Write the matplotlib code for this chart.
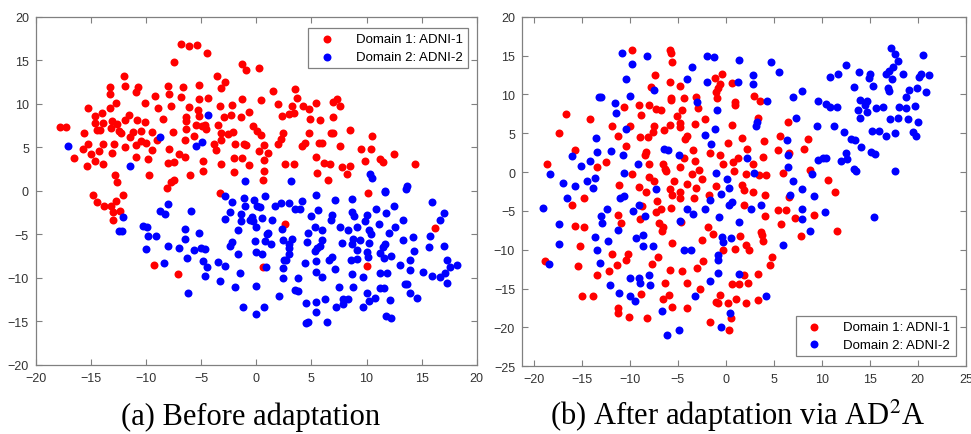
import matplotlib
matplotlib.use('Agg')
import matplotlib.pyplot as plt
import numpy as np

# (a) before adaptation: domain 1 (red)
a_red = [
    (-17.8, 7.3), (-17.3, 7.3), (-15.6, 6.7), (-15.3, 9.5), (-16.5, 3.8), (-15.7, 4.8), (-15.3, 5.4),
    (-15.0, 4.2), (-15.4, 2.9), (-14.6, 3.4), (-14.3, 4.6), (-14.6, 8.6), (-14.6, 7.8), (-14.5, 7.0),
    (-14.0, 9.0), (-14.2, 7.0), (-13.9, 7.8), (-13.9, 5.4), (-13.9, 3.1), (-13.3, 11.9), (-13.3, 11.1),
    (-13.3, 9.5), (-13.2, 7.2), (-13.1, 8.0), (-13.1, 4.4), (-12.9, 5.4), (-12.7, 10.1), (-12.6, 7.7),
    (-12.5, 6.9), (-12.3, 6.7), (-12.8, 1.8), (-12.6, 1.0), (-12.0, 13.2), (-11.9, 12.1), (-11.9, 5.0),
    (-11.9, 8.1), (-11.6, 8.7), (-11.5, 6.2), (-11.2, 6.8), (-10.9, 11.4), (-10.7, 11.9), (-10.8, 8.1),
    (-10.9, 5.3), (-10.5, 5.7), (-10.9, 3.9), (-10.5, 6.9), (-10.1, 10.1), (-10.1, 7.9), (-10.0, 5.5),
    (-9.8, 3.7), (-9.5, 4.7), (-9.5, 6.8), (-9.7, 1.8), (-9.2, 10.9), (-8.9, 9.5), (-9.0, 5.8),
    (-8.5, 8.3), (-8.0, 12.0), (-7.9, 11.1), (-7.7, 9.7), (-7.9, 4.8), (-7.6, 6.8), (-8.0, 3.2),
    (-7.5, 3.3), (-8.1, 0.3), (-7.7, 1.0), (-7.5, 1.2), (-7.5, 14.8), (-7.0, 4.2), (-6.8, 16.9),
    (-6.1, 16.7), (-5.4, 16.8), (-6.8, 10.8), (-6.7, 11.9), (-6.4, 8.5), (-6.4, 8.0), (-6.4, 7.1),
    (-6.5, 5.9), (-6.5, 3.9), (-6.1, 9.6), (-6.0, 1.8), (-5.7, 6.3), (-5.5, 7.6), (-5.2, 12.2),
    (-5.2, 10.6), (-5.2, 8.6), (-5.3, 9.3), (-4.9, 7.4), (-4.7, 7.6), (-4.6, 7.1), (-4.8, 3.4),
    (-4.8, 2.3), (-4.5, 15.9), (-4.4, 10.7), (-3.8, 5.4), (-3.7, 4.7), (-3.6, 13.2), (-3.5, 7.6),
    (-3.3, 9.8), (-3.2, 11.8), (-3.2, 6.7), (-3.2, 5.9), (-3.2, 3.1), (-2.9, 8.5), (-2.8, 12.5),
    (-2.6, 6.5), (-2.2, 9.9), (-2.3, 8.7), (-2.1, 6.8), (-2.0, 3.8), (-2.0, 2.2), (-1.9, 5.4),
    (-1.4, 8.5), (-1.3, 14.6), (-0.9, 13.9), (-1.3, 10.6), (-1.3, 3.8), (-1.1, 5.4), (-0.9, 5.3),
    (-0.7, 9.1), (-0.7, 3.0), (-3.3, -0.3), (0.2, 14.1), (1.5, 11.5), (3.5, 11.7), (3.7, 10.7),
    (0.4, 10.4), (2.0, 10.0), (3.2, 9.8), (4.2, 9.7), (4.8, 9.4), (5.4, 10.1), (7.0, 10.2),
    (7.3, 10.6), (7.6, 9.8), (2.3, 8.6), (3.0, 8.8), (3.4, 8.9), (4.9, 8.3), (5.8, 8.1), (7.0, 8.5),
    (-0.3, 7.5), (0.1, 6.9), (0.4, 6.4), (2.4, 6.6), (2.2, 6.0), (4.8, 6.6), (6.8, 6.6), (7.0, 6.7),
    (8.5, 7.0), (10.5, 6.3), (0.7, 5.3), (2.0, 5.4), (4.1, 5.2), (4.4, 5.5), (5.7, 5.5), (6.0, 5.5),
    (7.6, 5.1), (0.2, 4.6), (1.1, 4.3), (9.5, 4.8), (10.4, 4.8), (12.5, 4.2), (0.7, 3.6), (5.4, 3.9),
    (11.2, 3.7), (11.5, 3.3), (9.9, 3.4), (2.6, 3.1), (3.4, 3.1), (6.1, 3.2), (6.7, 3.1), (7.8, 2.7),
    (8.5, 2.9), (14.4, 3.1), (0.7, 2.3), (5.5, 2.0), (8.2, 1.9), (0.6, 1.3), (6.5, 1.3),
    (-14.8, -0.5), (-14.5, -1.3), (-13.8, -1.8), (-13.2, -1.8), (-12.7, -1.2), (-13.0, -2.4),
    (-12.4, -2.3), (-13.0, -3.4), (-12.1, -0.5), (-9.3, -8.5), (-7.1, -9.6),
    (10.1, -0.3), (2.6, -3.8), (16.2, -4.3), (0.6, -8.8), (10.0, -8.6),
]

# (a) before adaptation: domain 2 (blue)
a_blue = [
    (-17.1, 5.1), (-11.5, 2.9), (-8.7, 6.2), (-5.5, 5.2), (-4.9, 5.6), (-4.4, 8.7), (-1.0, 1.1),
    (-2.8, -0.6), (-1.1, -0.8), (3.1, 1.1), (10.3, 1.9), (10.5, 1.5), (11.7, 0.0), (13.7, 0.5),
    (-12.1, -3.0), (-12.5, -4.6), (-12.2, -4.6), (-10.3, -4.0), (-9.9, -4.1), (-9.8, -5.2),
    (-10.0, -6.7), (-9.1, -5.2), (-8.7, -2.3), (-8.3, -2.7), (-8.0, -1.5), (-8.0, -6.3), (-8.4, -8.3),
    (-7.0, -6.6), (-6.5, -4.4), (-6.5, -5.5), (-6.3, -7.7), (-5.9, -2.3), (-5.7, -6.8), (-6.2, -11.7),
    (-5.2, -4.8), (-5.0, -6.6), (-4.7, -6.7), (-4.8, -8.1), (-4.5, -8.7), (-4.7, -9.8), (-3.5, -8.2),
    (-3.3, -10.4), (-2.8, -8.6), (-2.8, -3.2), (-2.4, -2.4), (-2.2, -1.3), (-2.4, -6.3), (-2.2, -5.9),
    (-1.9, -11.1), (-1.7, -7.3), (-1.7, -4.5), (-1.5, -9.5), (-1.4, -2.7), (-1.4, -3.5), (-1.2, -13.3),
    (-1.0, -1.7), (-0.6, -3.3), (-0.2, -1.0), (0.1, -1.7), (0.3, -1.9), (0.8, -0.6), (-0.4, -3.0),
    (-0.3, -3.5), (0.5, -3.1), (1.4, -3.4), (1.7, -1.8), (2.2, -1.4), (3.0, -1.4), (4.1, -1.2),
    (3.5, -2.1), (4.0, -2.1), (5.4, -0.5), (5.6, -2.2), (5.0, -2.9), (7.1, -1.1), (6.9, -2.8),
    (6.8, -3.4), (8.7, -0.9), (8.7, -2.4), (8.9, -2.9), (10.0, -2.8), (9.9, -3.5), (10.9, -2.1),
    (11.7, -0.1), (11.8, -2.5), (12.5, -1.7), (13.6, 0.2), (15.9, -1.3), (17.0, -2.5), (16.7, -3.3),
    (0.0, -4.2), (1.0, -5.0), (1.1, -4.8), (1.3, -6.1), (2.3, -4.4), (2.4, -5.6), (3.2, -5.5),
    (3.0, -6.1), (2.96, -6.6), (3.0, -7.3), (4.7, -4.8), (4.6, -5.9), (5.3, -4.1), (6.0, -4.5),
    (6.0, -5.6), (5.8, -6.3), (5.5, -6.6), (5.3, -6.9), (7.6, -4.1), (8.3, -4.5), (9.1, -4.1),
    (9.4, -5.6), (8.8, -5.5), (8.7, -6.1), (10.2, -4.5), (10.4, -5.0), (10.2, -6.0), (7.8, -6.0),
    (9.1, -6.8), (11.1, -3.8), (12.0, -4.9), (12.6, -4.1), (13.3, -3.4), (13.3, -5.6), (14.2, -5.3),
    (14.3, -6.9), (15.8, -5.2), (15.7, -6.5), (17.0, -6.3), (11.7, -6.1), (11.5, -6.4), (11.6, -7.7),
    (11.2, -7.2), (12.2, -7.5), (10.0, -7.0), (10.1, -7.6), (9.1, -7.8), (8.6, -7.9), (6.6, -7.9),
    (6.9, -7.6), (5.4, -8.1), (2.7, -8.0), (2.5, -8.0), (4.4, -8.3), (0.8, -5.8), (-0.1, -5.8),
    (0.0, -7.0), (0.5, -7.3), (0.9, -8.7), (2.4, -8.9), (2.4, -10.0), (3.8, -10.0), (5.4, -9.3),
    (6.0, -9.9), (7.1, -9.0), (8.7, -9.6), (9.7, -9.9), (11.2, -9.5), (11.9, -9.5), (13.0, -8.5),
    (13.9, -8.0), (13.9, -9.1), (15.1, -9.3), (15.9, -9.8), (16.7, -9.9), (17.1, -9.5), (17.3, -10.6),
    (17.3, -7.9), (17.6, -8.8), (18.2, -8.5), (0.0, -10.9), (7.5, -11.0), (8.8, -11.1), (3.5, -11.4),
    (3.8, -11.5), (2.1, -12.1), (4.5, -12.9), (5.4, -12.8), (6.2, -12.4), (7.2, -13.4), (7.9, -13.0),
    (8.3, -12.4), (7.9, -12.4), (10.0, -11.8), (10.8, -12.3), (10.2, -12.7), (11.2, -11.2),
    (11.6, -11.2), (12.1, -12.6), (13.5, -10.7), (13.7, -10.7), (13.9, -11.7), (14.6, -12.3),
    (9.7, -13.4), (5.4, -13.9), (4.5, -15.2), (4.7, -15.1), (6.4, -15.1), (11.8, -14.4), (12.2, -14.6),
    (0.0, -14.1), (0.7, -13.4),
]

# (b) after adaptation: domain 1 (red)
b_red = [
    (-18.6, 1.1), (-17.3, 5.0), (-16.6, 7.5), (-15.7, 2.8), (-14.1, 6.9), (-13.4, 0.7), (-12.5, 1.3),
    (-11.8, 5.9), (-11.2, 4.6), (-10.6, 8.4), (-10.4, 3.3), (-10.0, 5.9), (-9.7, 15.7), (-9.7, -0.3),
    (-11.1, -1.7), (-9.0, 8.7), (-8.8, 7.4), (-8.9, 4.5), (-8.1, 4.5), (-8.3, 2.6), (-8.4, 2.2),
    (-8.0, 8.6), (-8.0, 1.1), (-7.4, 12.5), (-7.8, 11.0), (-7.2, 8.1), (-6.7, 8.0), (-7.5, 5.9),
    (-7.6, 5.2), (-8.0, -0.6), (-7.5, -1.2), (-8.3, -2.6), (-9.0, -1.9), (-6.4, 5.4), (-6.5, 1.1),
    (-6.3, 0.4), (-6.2, 0.1), (-5.8, 15.7), (-5.7, 15.4), (-5.6, 14.2), (-5.8, 11.6), (-5.7, 9.6),
    (-5.7, 9.3), (-5.8, 6.1), (-5.1, 7.2), (-4.8, 6.3), (-4.8, 5.8), (-4.5, 8.0), (-4.7, 11.1),
    (-4.3, 9.5), (-4.2, 4.2), (-4.0, 4.6), (-4.3, 1.8), (-4.8, 0.6), (-5.4, -1.1), (-5.8, -2.2),
    (-4.7, -2.6), (-4.0, -1.5), (-3.5, -0.3), (-3.2, 1.4), (-3.4, 2.9), (-3.2, 6.2), (-3.1, 9.7),
    (-2.9, 8.3), (-2.8, 0.3), (-2.5, -0.9), (-3.1, -2.1), (-2.2, 6.8), (-1.6, 2.5), (-1.1, 12.1),
    (-1.0, 10.3), (-0.8, 10.8), (-0.9, 9.6), (-0.4, 12.6), (-0.6, 2.2), (-0.3, 1.1), (-0.6, 11.3),
    (-1.0, -1.8), (0.2, 3.7), (0.7, 11.5), (1.0, 9.0), (1.0, 8.7), (0.7, 6.1), (0.8, 1.3), (0.9, 0.2),
    (1.3, 1.8), (-5.6, -2.9), (-1.7, -3.0),
    (3.0, 9.8), (3.6, 9.2), (3.4, 7.0), (6.5, 6.5), (1.7, 4.4), (2.2, 3.0), (2.8, 1.0), (4.0, 4.0),
    (3.9, 2.0), (5.7, 4.6), (5.4, 2.9), (6.6, 2.5), (8.6, 4.2), (8.2, 3.0), (6.0, -0.1), (8.8, 0.3),
    (2.1, -0.3), (3.5, -0.4), (4.2, -0.4), (1.7, -1.6), (1.9, -2.3), (2.9, -2.6), (4.1, -2.9),
    (10.7, -1.0), (11.4, -2.6),
    (-16.0, -4.3), (-14.7, -3.3), (-15.7, -7.0), (-14.7, -7.1), (-15.2, -9.5), (-15.4, -12.1),
    (-15.0, -15.9), (-13.8, -16.0), (-13.4, -13.2), (-18.8, -11.5), (-11.8, -10.5), (-12.1, -12.7),
    (-11.2, -5.5), (-10.9, -6.6), (-11.3, -12.0), (-11.2, -17.5), (-11.2, -18.1), (-10.2, -10.5),
    (-10.4, -11.3), (-10.1, -18.7), (-8.9, -6.0), (-8.7, -4.4), (-8.8, -15.7), (-8.2, -18.8),
    (-7.7, -11.9), (-7.0, -11.0), (-7.1, -3.7), (-7.2, -5.1), (-6.7, -4.7), (-6.9, -6.6), (-6.5, -7.1),
    (-6.6, -7.6), (-6.3, -14.3), (-6.5, -16.3), (-5.9, -15.8), (-5.7, -4.6), (-5.6, -9.1), (-5.8, -12.6),
    (-5.6, -17.4), (-4.7, -3.3), (-4.6, -6.4), (-4.5, -12.7), (-4.0, -17.5), (-4.0, -14.3), (-3.3, -3.3),
    (-3.0, -12.3), (-2.7, -15.0), (-2.4, -11.5), (-2.5, -8.7), (-1.8, -7.1), (-1.6, -19.3), (-1.3, -8.0),
    (-1.0, -16.7), (-0.8, -16.9), (-0.6, -15.8), (-0.3, -10.0), (0.2, -16.9), (0.4, -20.3), (0.6, -18.8),
    (0.7, -14.4), (1.1, -16.3), (1.4, -14.4), (1.5, -8.2),
    (6.6, -3.2), (1.9, -4.3), (5.5, -4.9), (6.3, -4.9), (4.1, -5.6), (7.2, -5.9), (9.2, -5.5),
    (5.8, -6.7), (11.6, -7.6), (7.8, -8.2), (3.7, -7.7), (3.8, -8.1), (3.9, -8.9), (1.0, -9.9),
    (2.1, -9.4), (2.4, -10.0), (4.8, -10.9), (4.6, -12.0), (3.4, -13.1), (1.9, -13.3), (2.3, -14.3),
    (3.4, -16.5), (2.1, -16.9),
]

# (b) after adaptation: domain 2 (blue)
b_blue = [
    (-18.3, -0.2), (-16.9, -1.4), (-16.0, 2.1), (-15.7, -1.8), (-15.1, 0.8), (-14.4, -1.2), (-14.1, 1.4),
    (-13.8, -2.1), (-13.6, -0.8), (-13.4, 2.6), (-13.5, 4.4), (-13.2, 9.7), (-13.0, 9.7), (-11.9, 2.7),
    (-11.5, 8.9), (-11.4, 7.6), (-10.8, 15.4), (-10.4, 12.0), (-10.4, 5.5), (-10.7, 2.2), (-10.6, -0.1),
    (-10.0, 9.8), (-9.7, 13.9), (-9.1, 1.1), (-8.2, 15.0), (-7.5, 10.6), (-7.2, -2.2), (-6.4, 3.0),
    (-6.0, 2.8), (-4.9, 2.2), (-4.0, 12.0), (-3.5, 13.6), (-3.0, 9.0), (-2.2, 4.8), (-1.9, 11.6),
    (-1.9, 15.0), (-1.2, 14.8), (-1.5, 3.6), (-1.1, 5.5), (-0.9, 8.0), (-1.0, -0.1), (0.1, -0.9),
    (0.4, -2.0), (-0.5, -2.8), (1.4, 14.4), (1.3, 11.6),
    (2.9, 12.5), (2.9, 11.3), (4.7, 14.2), (5.6, 12.9), (4.3, 9.2), (7.0, 9.7), (8.0, 10.5), (7.3, 7.0),
    (9.6, 9.2), (10.4, 8.8), (10.9, 8.4), (11.6, 8.4), (9.5, 6.0), (11.3, 5.9), (12.3, 5.2),
    (10.9, 12.3), (11.7, 12.6), (12.5, 13.8), (13.4, 11.0), (13.9, 12.9), (15.0, 12.7), (14.9, 12.1),
    (15.3, 11.1), (14.0, 9.3), (13.8, 8.0), (14.0, 7.0), (14.5, 8.6), (14.7, 9.1), (14.7, 7.7),
    (15.7, 8.2), (16.4, 8.4), (15.2, 5.3), (16.0, 5.3), (16.7, 12.7), (17.0, 13.0), (17.2, 16.0),
    (17.6, 15.2), (17.9, 14.3), (17.4, 13.6), (17.3, 12.0), (16.9, 10.8), (17.0, 10.5), (17.1, 6.8),
    (18.5, 12.7), (19.1, 10.6), (18.8, 9.7), (19.9, 10.8), (18.0, 8.4), (18.8, 8.3), (17.9, 7.0),
    (19.0, 6.8), (19.7, 8.5), (20.0, 6.5), (19.5, 5.1), (19.8, 4.6), (16.7, 4.6), (17.6, 5.0),
    (20.1, 12.3), (20.3, 12.6), (20.6, 15.1), (21.2, 12.5), (20.9, 10.3), (17.6, 0.2), (13.1, 4.3),
    (13.5, 4.1), (14.1, 3.2), (15.1, 2.6), (15.6, 2.3), (12.5, 2.5), (12.6, 1.7), (12.0, 1.4),
    (9.6, 1.6), (10.1, 1.8), (10.5, 1.8), (13.4, 0.4), (13.6, 0.2), (6.4, 4.1), (6.5, 2.2), (6.5, 0.7),
    (7.0, -1.2), (7.9, -2.2), (6.7, -3.0), (9.2, -3.1), (9.0, -0.2), (3.3, 6.5), (3.2, 5.9), (2.2, 1.8),
    (3.0, -0.1),
    (-19.0, -4.6), (-17.4, -6.7), (-17.3, -9.3), (-18.4, -11.9), (-16.5, -3.4), (-13.0, -5.6),
    (-12.9, -6.6), (-13.6, -8.3), (-13.4, -10.1), (-13.1, -11.7), (-12.3, -4.8), (-12.2, -8.9),
    (-12.0, -14.5), (-11.2, -7.5), (-11.0, -3.4), (-10.6, -3.1), (-11.1, -15.6), (-10.0, -13.6),
    (-10.0, -16.0), (-9.6, -5.0), (-9.3, -8.5), (-9.4, -16.6), (-9.0, -4.2), (-9.0, -13.6),
    (-8.9, -14.3), (-8.6, -8.1), (-8.6, -9.5), (-8.4, -5.6), (-8.0, -13.3), (-7.9, -14.6), (-7.6, -9.5),
    (-6.6, -17.9), (-6.1, -21.0), (-4.9, -20.3), (-4.8, -6.3), (-4.3, -10.1), (-3.6, -10.1),
    (-4.0, -4.7), (-3.4, -5.4), (-3.2, -16.0), (-2.2, -4.7), (-1.6, -3.6), (-1.6, -14.0), (-0.8, -11.3),
    (-0.8, -10.7), (-0.8, -13.0), (-0.7, -5.8), (-0.4, -8.3), (-0.3, -9.0), (-0.5, -19.9), (0.3, -4.3),
    (0.7, -3.8), (0.6, -8.5), (0.5, -18.2), (1.4, -6.4), (1.4, -13.1),
    (2.6, -4.8), (3.7, -4.3), (8.0, -4.7), (8.0, -6.0), (10.3, -5.1), (8.8, -7.6), (6.0, -9.4),
    (15.4, -5.8), (4.2, -15.9),
]

labels = ['Domain 1: ADNI-1', 'Domain 2: ADNI-2']
captions = ['(a) Before adaptation', '(b) After adaptation via AD$^2$A']

plt.rcParams['font.family'] = ['Liberation Sans', 'DejaVu Sans']
plt.rcParams['mathtext.fontset'] = 'stix'

fig = plt.figure(figsize=(9.71, 4.35), dpi=100)
ax1 = fig.add_axes([0.037, 0.159, 0.454, 0.800])
ax2 = fig.add_axes([0.5376, 0.156, 0.457, 0.803])

panels = [
    (ax1, a_red, a_blue, (-20, 20), (-20, 20), np.arange(-20, 21, 5), np.arange(-20, 21, 5),
     'upper right', (0.98, 0.968)),
    (ax2, b_red, b_blue, (-21.2, 25), (-25, 20), np.arange(-20, 26, 5), np.arange(-25, 21, 5),
     'lower right', (0.977, 0.029)),
]

for ax, red, blue, xl, yl, xt, yt, loc, anchor in panels:
    r = np.array(red)
    b = np.array(blue)
    ax.scatter(r[:, 0], r[:, 1], s=33, c='#ff0000', linewidths=0, label=labels[0])
    ax.scatter(b[:, 0], b[:, 1], s=33, c='#0000ff', linewidths=0, label=labels[1])
    ax.set_xlim(*xl)
    ax.set_ylim(*yl)
    ax.set_xticks(xt)
    ax.set_yticks(yt)
    ax.tick_params(direction='in', length=4, width=0.8, colors='#808080',
                   labelcolor='#333333', labelsize=9, top=True, right=True, pad=5)
    for sp in ax.spines.values():
        sp.set_color('#808080')
        sp.set_linewidth(0.9)
    leg = ax.legend(loc=loc, bbox_to_anchor=anchor, borderaxespad=0, fontsize=9.5,
                    fancybox=False, framealpha=1, edgecolor='#808080',
                    handletextpad=1.2, borderpad=0.4, labelspacing=0.4, markerscale=1.0)
    leg.get_frame().set_linewidth(0.9)

fig.text(0.258, 0.024, captions[0], ha='center', va='baseline', fontsize=22,
         family='Liberation Serif')
fig.text(0.760, 0.024, captions[1], ha='center', va='baseline', fontsize=22,
         family='Liberation Serif')

fig.savefig('out.png', dpi=100)
